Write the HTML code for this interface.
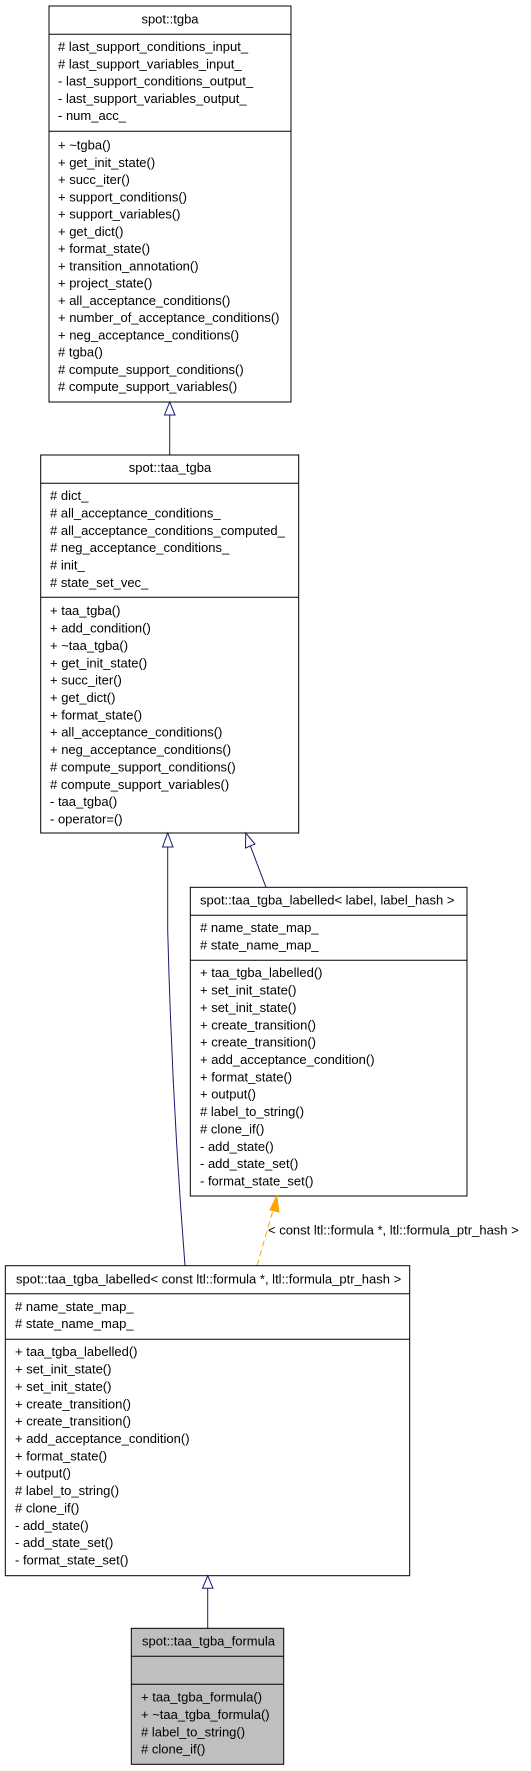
<!DOCTYPE html>
<html><head><meta charset="utf-8"><style>
html,body{margin:0;padding:0;background:#fff;}
svg{display:block;}
text{font-family:"Liberation Sans",Arial,sans-serif;font-size:13px;fill:#000;}
</style></head><body>
<svg width="531" height="1771" viewBox="0 0 531 1771" xmlns="http://www.w3.org/2000/svg">
<!-- Box1 tgba -->
<rect x="49" y="6" width="242" height="396" fill="#fff" stroke="#000" stroke-width="1"/>
<line x1="49" y1="34.3" x2="291" y2="34.3" stroke="#000"/>
<line x1="49" y1="131.3" x2="291" y2="131.3" stroke="#000"/>
<text x="170" y="23.5" text-anchor="middle">spot::tgba</text>
<text x="58" y="51.2"># last_support_conditions_input_</text>
<text x="58" y="68.5"># last_support_variables_input_</text>
<text x="58" y="85.7">- last_support_conditions_output_</text>
<text x="58" y="103">- last_support_variables_output_</text>
<text x="58" y="120.2">- num_acc_</text>
<text x="58" y="149.5">+ ~tgba()</text>
<text x="58" y="166.8">+ get_init_state()</text>
<text x="58" y="184">+ succ_iter()</text>
<text x="58" y="201.3">+ support_conditions()</text>
<text x="58" y="218.5">+ support_variables()</text>
<text x="58" y="235.8">+ get_dict()</text>
<text x="58" y="253.1">+ format_state()</text>
<text x="58" y="270.3">+ transition_annotation()</text>
<text x="58" y="287.6">+ project_state()</text>
<text x="58" y="304.8">+ all_acceptance_conditions()</text>
<text x="58" y="322.1">+ number_of_acceptance_conditions()</text>
<text x="58" y="339.4">+ neg_acceptance_conditions()</text>
<text x="58" y="356.6"># tgba()</text>
<text x="58" y="373.9"># compute_support_conditions()</text>
<text x="58" y="391.1"># compute_support_variables()</text>
<!-- arrow 1 -->
<line x1="169.7" y1="415" x2="169.7" y2="455" stroke="#191970"/>
<polygon points="169.7,402 164.5,415 175,415" fill="#fff" stroke="#191970"/>
<!-- Box2 taa_tgba -->
<rect x="40.7" y="455" width="258" height="378" fill="#fff" stroke="#000"/>
<line x1="40.7" y1="483.3" x2="298.7" y2="483.3" stroke="#000"/>
<line x1="40.7" y1="597.3" x2="298.7" y2="597.3" stroke="#000"/>
<text x="170" y="472.2" text-anchor="middle">spot::taa_tgba</text>
<text x="50" y="500.2"># dict_</text>
<text x="50" y="517.5"># all_acceptance_conditions_</text>
<text x="50" y="534.9"># all_acceptance_conditions_computed_</text>
<text x="50" y="552.2"># neg_acceptance_conditions_</text>
<text x="50" y="569.5"># init_</text>
<text x="50" y="586.9"># state_set_vec_</text>
<text x="50" y="615.2">+ taa_tgba()</text>
<text x="50" y="632.6">+ add_condition()</text>
<text x="50" y="649.9">+ ~taa_tgba()</text>
<text x="50" y="667.3">+ get_init_state()</text>
<text x="50" y="684.6">+ succ_iter()</text>
<text x="50" y="702">+ get_dict()</text>
<text x="50" y="719.4">+ format_state()</text>
<text x="50" y="736.7">+ all_acceptance_conditions()</text>
<text x="50" y="754.1">+ neg_acceptance_conditions()</text>
<text x="50" y="771.4"># compute_support_conditions()</text>
<text x="50" y="788.8"># compute_support_variables()</text>
<text x="50" y="806.1">- taa_tgba()</text>
<text x="50" y="823.5">- operator=()</text>
<!-- arrows from box2 -->
<path d="M167.7,847 L167.7,930 Q172,1100 185,1265.7" fill="none" stroke="#191970"/>
<polygon points="167.7,833 162.5,847 173,847" fill="#fff" stroke="#191970"/>
<line x1="250" y1="845" x2="266" y2="887.3" stroke="#191970"/>
<polygon points="245.7,833 245.5,848 255,844" fill="#fff" stroke="#191970"/>
<!-- Box3 -->
<rect x="190.3" y="887.3" width="276.7" height="308.7" fill="#fff" stroke="#000"/>
<line x1="190.3" y1="915.3" x2="467" y2="915.3" stroke="#000"/>
<line x1="190.3" y1="960.3" x2="467" y2="960.3" stroke="#000"/>
<text x="200" y="904.5">spot::taa_tgba_labelled&lt; label, label_hash &gt;</text>
<text x="200" y="932.2"># name_state_map_</text>
<text x="200" y="949.5"># state_name_map_</text>
<text x="200" y="977.2">+ taa_tgba_labelled()</text>
<text x="200" y="994.6">+ set_init_state()</text>
<text x="200" y="1011.9">+ set_init_state()</text>
<text x="200" y="1029.3">+ create_transition()</text>
<text x="200" y="1046.6">+ create_transition()</text>
<text x="200" y="1064">+ add_acceptance_condition()</text>
<text x="200" y="1081.4">+ format_state()</text>
<text x="200" y="1098.7">+ output()</text>
<text x="200" y="1116.1"># label_to_string()</text>
<text x="200" y="1133.4"># clone_if()</text>
<text x="200" y="1150.8">- add_state()</text>
<text x="200" y="1168.1">- add_state_set()</text>
<text x="200" y="1185.5">- format_state_set()</text>
<!-- orange dashed -->
<line x1="257" y1="1265.7" x2="273" y2="1210" stroke="#ffa500" stroke-dasharray="6,4"/>
<polygon points="276.7,1196 270,1210 279,1212" fill="#ffa500" stroke="#ffa500"/>
<text x="268" y="1234.5">&lt; const ltl::formula *, ltl::formula_ptr_hash &gt;</text>
<!-- Box4 -->
<rect x="5.3" y="1265.7" width="404.4" height="310" fill="#fff" stroke="#000"/>
<line x1="5.3" y1="1293.7" x2="409.7" y2="1293.7" stroke="#000"/>
<line x1="5.3" y1="1339.3" x2="409.7" y2="1339.3" stroke="#000"/>
<text x="16" y="1283.5">spot::taa_tgba_labelled&lt; const ltl::formula *, ltl::formula_ptr_hash &gt;</text>
<text x="15" y="1311.2"># name_state_map_</text>
<text x="15" y="1328.2"># state_name_map_</text>
<text x="15" y="1356.2">+ taa_tgba_labelled()</text>
<text x="15" y="1373.6">+ set_init_state()</text>
<text x="15" y="1390.9">+ set_init_state()</text>
<text x="15" y="1408.3">+ create_transition()</text>
<text x="15" y="1425.6">+ create_transition()</text>
<text x="15" y="1443">+ add_acceptance_condition()</text>
<text x="15" y="1460.4">+ format_state()</text>
<text x="15" y="1477.7">+ output()</text>
<text x="15" y="1495.1"># label_to_string()</text>
<text x="15" y="1512.4"># clone_if()</text>
<text x="15" y="1529.8">- add_state()</text>
<text x="15" y="1547.1">- add_state_set()</text>
<text x="15" y="1564.5">- format_state_set()</text>
<!-- arrow to box5 -->
<line x1="207.7" y1="1588.3" x2="207.7" y2="1628.3" stroke="#191970"/>
<polygon points="207.7,1575.7 202.5,1588.3 213,1588.3" fill="#fff" stroke="#191970"/>
<!-- Box5 -->
<rect x="131.3" y="1628.3" width="152.4" height="136" fill="#bfbfbf" stroke="#000"/>
<line x1="131.3" y1="1656.3" x2="283.7" y2="1656.3" stroke="#000"/>
<line x1="131.3" y1="1684.3" x2="283.7" y2="1684.3" stroke="#000"/>
<text x="142" y="1645.5">spot::taa_tgba_formula</text>
<text x="141" y="1701.5">+ taa_tgba_formula()</text>
<text x="141" y="1719.2">+ ~taa_tgba_formula()</text>
<text x="141" y="1736.5"># label_to_string()</text>
<text x="141" y="1753.5"># clone_if()</text>
</svg>
</body></html>
